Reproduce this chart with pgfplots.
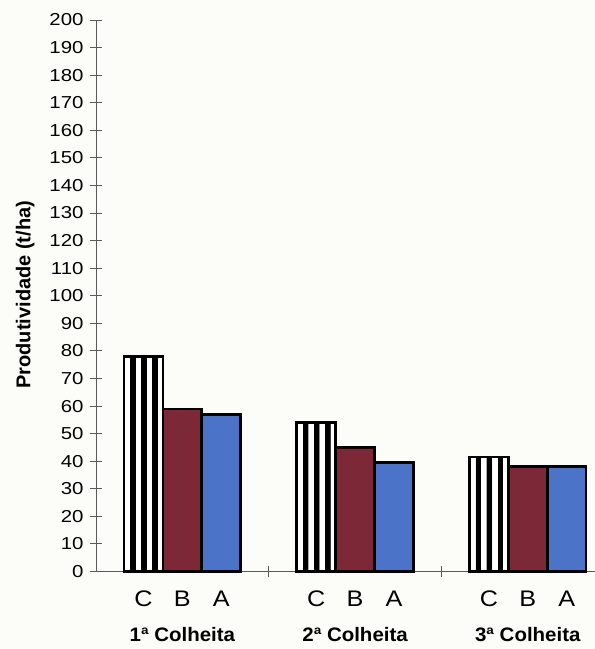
\documentclass[border=0pt]{standalone}
\usepackage{graphicx}
\usepackage{pgfplots}
\usepackage{pgfplotstable}
\pgfplotsset{compat=1.18}
\usepackage{fontspec}
\setmainfont{Liberation Sans}

\definecolor{barB}{RGB}{125,40,55}
\definecolor{barA}{RGB}{75,115,200}
\definecolor{paper}{RGB}{252,252,249}
\definecolor{axisgray}{RGB}{90,90,90}

% Seven vertical bands (white/black) spanning one bar's width
\pgfdeclarehorizontalshading{vstripes}{100bp}{%
  color(0bp)=(white); color(25bp)=(white);
  color(32.10bp)=(white); color(32.20bp)=(black);
  color(39.25bp)=(black); color(39.35bp)=(white);
  color(46.40bp)=(white); color(46.50bp)=(black);
  color(53.55bp)=(black); color(53.65bp)=(white);
  color(60.70bp)=(white); color(60.80bp)=(black);
  color(67.85bp)=(black); color(67.95bp)=(white);
  color(75bp)=(white); color(100bp)=(white)}

% Produtividade por colheita (t/ha) para os tratamentos C, B e A
\pgfplotstableread{
x  C    B    A
0  78   59   57
1  54   45   39.5
2  41.5 38   38
}\produtividade

\pgfplotsset{
  barC/.style={ybar, bar width=0.225, bar shift=-0.225, draw=black,
    line width=2.6bp, shading=vstripes},
}

\begin{document}
\begin{tikzpicture}
\useasboundingbox[fill=paper] (-96bp,-77.5bp) rectangle (499bp,571.5bp);
\begin{axis}[
  scale only axis,
  width=499bp, height=551.5bp,
  xmin=-0.5, xmax=2.389,
  ymin=0, ymax=200,
  axis lines*=left,
  axis line style={axisgray, line width=0.9bp},
  every tick/.style={axisgray, line width=0.9bp},
  tick align=center,
  major tick length=12bp,
  ytick={0,10,...,200},
  yticklabel={\scalebox{1.18}[1]{\pgfmathprintnumber[assume math mode=true]{\tick}}},
  yticklabel style={font=\fontsize{17.3bp}{20bp}\selectfont, xshift=-3bp},
  xtick={0.5,1.5},
  xticklabels={},
  extra x ticks={-0.225,0,0.225,0.775,1,1.225,1.775,2,2.225},
  extra x tick labels={\scalebox{1.12}[1]{C},\scalebox{1.12}[1]{B},\scalebox{1.12}[1]{A},
    \scalebox{1.12}[1]{C},\scalebox{1.12}[1]{B},\scalebox{1.12}[1]{A},
    \scalebox{1.12}[1]{C},\scalebox{1.12}[1]{B},\scalebox{1.12}[1]{A}},
  extra x tick style={major tick length=0pt,
    xticklabel style={font=\fontsize{22.5bp}{25bp}\selectfont, yshift=-16bp}},
  ylabel={\textbf{Produtividade (t/ha)}},
  ylabel style={font=\fontsize{20bp}{23bp}\selectfont, yshift=8bp, xshift=1bp},
  clip=false,
]
% treatment C: one bar per harvest, so the stripes fit each bar
\addplot[barC, restrict x to domain=-0.1:0.1] table[x=x, y=C] {\produtividade};
\addplot[barC, restrict x to domain=0.9:1.1]  table[x=x, y=C] {\produtividade};
\addplot[barC, restrict x to domain=1.9:2.1]  table[x=x, y=C] {\produtividade};
\addplot[ybar, bar width=0.225, bar shift=0, draw=black, line width=2.6bp, fill=barB]
  table[x=x, y=B] {\produtividade};
\addplot[ybar, bar width=0.225, bar shift=0.225, draw=black, line width=2.6bp, fill=barA]
  table[x=x, y=A] {\produtividade};

\foreach \g/\t in {0/1ª Colheita, 1/2ª Colheita, 2/3ª Colheita}{
  \edef\temp{\noexpand\node[anchor=base, yshift=-70bp,
    font=\noexpand\fontsize{19.5bp}{22bp}\noexpand\selectfont\noexpand\bfseries]
    at (axis cs:\g,0) {\noexpand\scalebox{1.05}[1]{\t}};}
  \temp
}
\end{axis}
\end{tikzpicture}
\end{document}
